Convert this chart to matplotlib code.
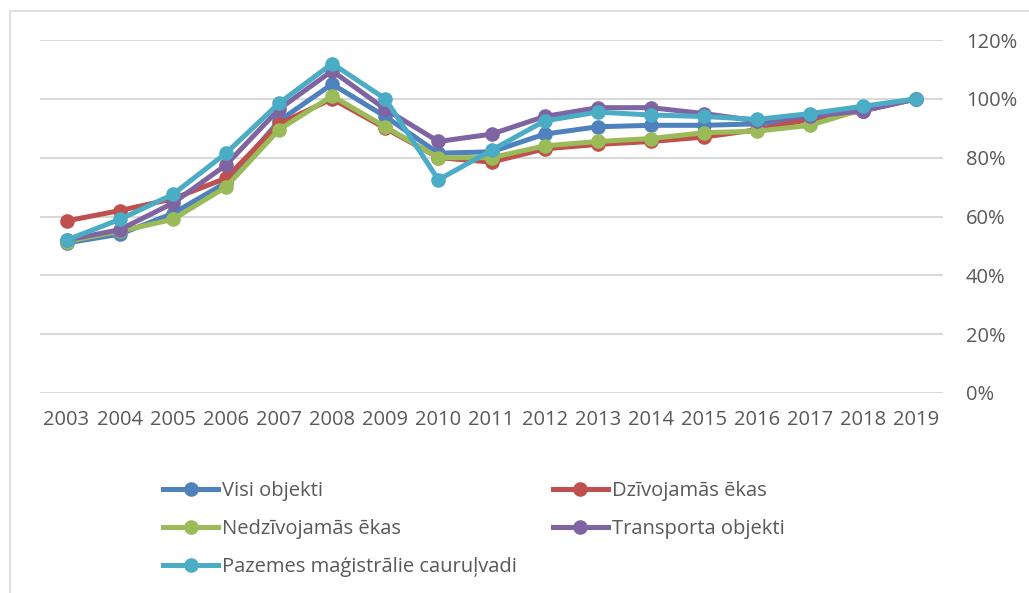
import matplotlib.pyplot as plt
from matplotlib.patches import Rectangle

plt.rcParams['font.family'] = ['Open Sans', 'DejaVu Sans']

years = [str(y) for y in range(2003, 2020)]

visi = [51, 54, 61, 71.5, 92.5, 105, 94, 81.5, 82, 88, 90.5, 91, 91, 91.5, 93, 96, 100]
dzivojamas = [58.5, 62, 66, 73, 91.5, 100, 90, 80, 78.5, 83, 84.5, 85.5, 87, 89.5, 93, 96, 100]
nedzivojamas = [51.5, 55, 59, 70, 89.5, 101, 90.5, 80, 80, 84, 85.5, 86.5, 88.5, 89, 91, 96.5, 100]
transporta = [52, 55.5, 64.5, 77.5, 96.5, 109.5, 96.5, 85.5, 88, 94, 97, 97, 95, 92.5, 94, 96, 100]
pazemes = [52, 59, 67.5, 81.5, 98.5, 112, 100, 72.5, 82.5, 92.5, 95.5, 94.5, 94, 93, 95, 97.5, 100]

names = ["Visi objekti", "Dzīvojamās ēkas", "Nedzīvojamās ēkas",
         "Transporta objekti", "Pazemes maģistrālie cauruļvadi"]
series = [visi, dzivojamas, nedzivojamas, transporta, pazemes]
colors = ["#4F81BD", "#C0504D", "#9BBB59", "#8064A2", "#4BACC6"]

fig = plt.figure(figsize=(10.29, 5.93), dpi=100)
ax = fig.add_axes([40 / 1029, 1 - 393 / 593, 903 / 1029, 353 / 593])

x = list(range(len(years)))
lines = {}
for name, vals, c in zip(names, series, colors):
    ln, = ax.plot(x, vals, color=c, lw=3.6, marker="o", ms=9.5, label=name,
                  clip_on=False, zorder=3)
    lines[name] = ln

ax.set_xlim(-0.5, 16.5)
ax.set_ylim(0, 120)
ax.set_yticks(range(0, 121, 20))
ax.set_yticklabels([f"{v}%" for v in range(0, 121, 20)])
ax.set_xticks(x)
ax.set_xticklabels(years)
ax.yaxis.tick_right()
ax.tick_params(axis="y", length=0, pad=16.5, labelsize=14.5, labelcolor="#595959")
ax.tick_params(axis="x", length=0, pad=12, labelsize=14.5, labelcolor="#595959")
for lbl in ax.get_yticklabels():
    lbl.set_horizontalalignment("left")
ax.grid(axis="y", color="#D9D9D9", lw=1.5)
ax.set_axisbelow(True)
for s in ax.spines.values():
    s.set_visible(False)

# legend: two columns, filled column-wise
order = [names[0], names[2], names[4], names[1], names[3]]
leg = fig.legend([lines[n] for n in order], order, ncol=2, frameon=False,
                 loc="upper left", bbox_to_anchor=(155 / 1029, 1 - 473 / 593),
                 fontsize=14.5, handlelength=2.75, handletextpad=0.2,
                 columnspacing=1.75, labelspacing=0.9, borderaxespad=0)
for t in leg.get_texts():
    t.set_color("#595959")

fig.patches.append(Rectangle((10 / 1029, -0.1), 1.2, 1.1 - 11 / 593,
                             transform=fig.transFigure, fill=False,
                             edgecolor="#D9D9D9", lw=1.2))

fig.savefig("out.png", dpi=100)
